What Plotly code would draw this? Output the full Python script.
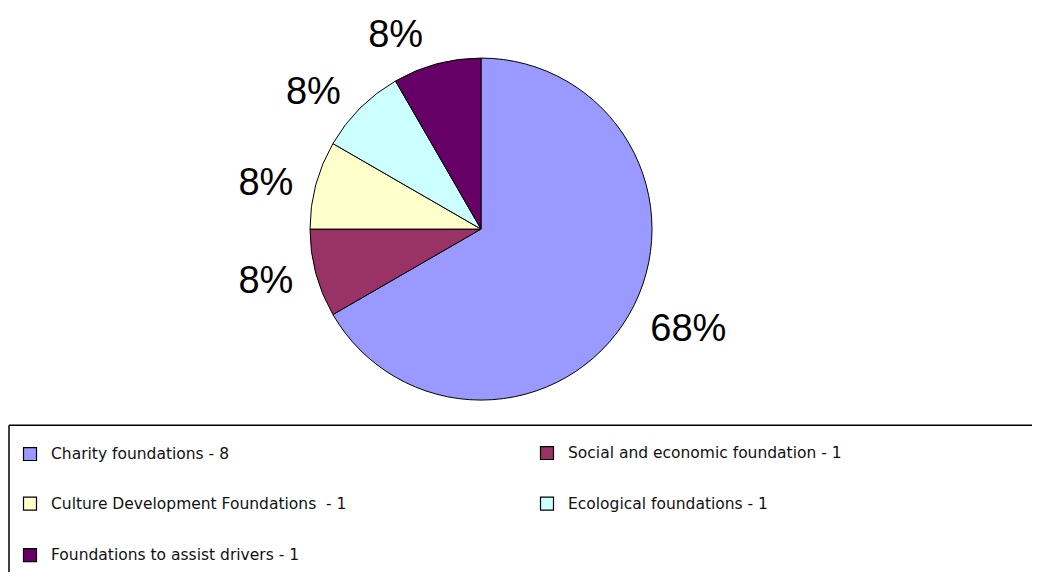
import plotly.graph_objects as go

categories = [
    "Charity foundations",
    "Social and economic foundation",
    "Culture Development Foundations ",
    "Ecological foundations",
    "Foundations to assist drivers",
]
values = [8, 1, 1, 1, 1]
pct_labels = ["68%", "8%", "8%", "8%", "8%"]
colors = ["#9999FF", "#993366", "#FFFFCC", "#CCFFFF", "#660066"]

W, H = 1024, 564
OFF = 8  # page body margin offset
cx, cy, r = 481 - OFF, 228 - OFF, 171
r_text = r + 14
pad = 4  # extra vertical room plotly takes away from the pie box


def dom(rad, extra=0):
    return dict(x=[(cx - rad) / W, (cx + rad) / W],
                y=[1 - (cy + rad + extra / 2) / H, 1 - (cy - rad - 1.5 * extra) / H])


fig = go.Figure()
fig.add_trace(go.Pie(
    labels=categories,
    values=values,
    textinfo="none",
    textposition="none",
    sort=False,
    direction="clockwise",
    rotation=0,
    marker=dict(colors=colors, line=dict(color="#000000", width=1)),
    domain=dom(r, pad),
    showlegend=False,
    hoverinfo="label+value+percent",
))
# transparent carrier pie for the outside percentage labels (slightly larger radius)
fig.add_trace(go.Pie(
    labels=categories,
    values=values,
    text=pct_labels,
    textinfo="text",
    textposition="outside",
    sort=False,
    direction="clockwise",
    rotation=0,
    marker=dict(colors=["rgba(0,0,0,0)"] * len(values), line=dict(width=0)),
    outsidetextfont=dict(family="Liberation Sans, Arial, sans-serif", size=38, color="#000000"),
    domain=dom(r_text),
    showlegend=False,
    hoverinfo="skip",
))


def px(x):
    return (x - OFF) / W


def py(y):
    return 1 - (y - OFF) / H


shapes = [
    dict(type="line", xref="paper", yref="paper", x0=px(9), x1=px(1100), y0=py(424), y1=py(424),
         line=dict(color="#000000", width=1.5)),
    dict(type="line", xref="paper", yref="paper", x0=px(9), x1=px(9), y0=py(424), y1=py(620),
         line=dict(color="#000000", width=1.5)),
]
annotations = []
legend_pos = [(30, 453), (547, 452), (30, 503), (547, 503), (30, 555)]
for (lx, ly), cat, val, col in zip(legend_pos, categories, values, colors):
    shapes.append(dict(type="rect", xref="paper", yref="paper",
                       x0=px(lx - 6.5), x1=px(lx + 6.5), y0=py(ly + 6.5), y1=py(ly - 6.5),
                       line=dict(color="#000000", width=1.2), fillcolor=col))
    annotations.append(dict(xref="paper", yref="paper", x=px(lx + 19), y=py(ly),
                            xanchor="left", yanchor="middle", showarrow=False,
                            text=f"{cat} - {val}",
                            font=dict(family="DejaVu Sans, sans-serif", size=15.5, color="#111111")))

fig.update_layout(
    width=W, height=H,
    margin=dict(l=0, r=0, t=0, b=0),
    paper_bgcolor="#FFFFFF",
    plot_bgcolor="#FFFFFF",
    shapes=shapes,
    annotations=annotations,
)

fig.write_html("out.html")
